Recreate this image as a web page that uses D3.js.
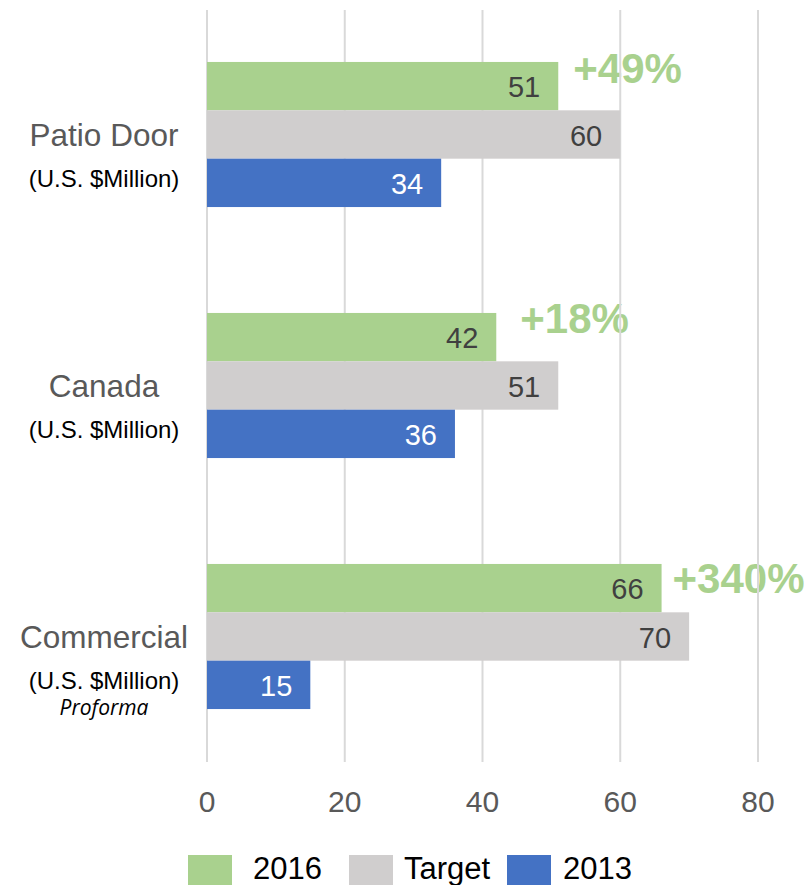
<!DOCTYPE html>
<html>
<head>
<meta charset="utf-8">
<script src="https://cdn.jsdelivr.net/npm/d3@7"></script>
<style>
  body { margin: 0; background: #fff; }
  text { font-family: "Liberation Sans", Arial, sans-serif; }
</style>
</head>
<body>
<svg id="chart" width="808" height="885"></svg>
<script>
// categories + series
var categories = ["Patio Door", "Canada", "Commercial"];
var subtitles = [["(U.S. $Million)"], ["(U.S. $Million)"], ["(U.S. $Million)", "Proforma"]];
var seriesNames = ["2016", "Target", "2013"];
var values2016 = [51, 42, 66];
var valuesTarget = [60, 51, 70];
var values2013 = [34, 36, 15];
var growthLabels = ["+49%", "+18%", "+340%"];
var xTicks = [0, 20, 40, 60, 80];

var colors = { "2016": "#a9d18e", "Target": "#d0cece", "2013": "#4472c4" };
var labelColors = { "2016": "#404040", "Target": "#404040", "2013": "#ffffff" };

// hand nudges for the growth text boxes (they were placed by hand in the source)
var growthNudge = [[15, 21], [24, 20], [11, 29]];

var svg = d3.select("#chart");

var x = d3.scaleLinear().domain([0, 80]).range([207, 758]);
var y = d3.scaleBand().domain(categories).range([9, 762])
    .paddingInner(0.422).paddingOuter(0.211);
var ySub = d3.scaleBand().domain(seriesNames).range([0, y.bandwidth()]);

var rows = categories.map(function (c, i) {
    return {
        cat: c,
        i: i,
        bars: [
            { s: "2016", v: values2016[i] },
            { s: "Target", v: valuesTarget[i] },
            { s: "2013", v: values2013[i] }
        ]
    };
});

// growth labels (under the gridlines, like the source)
svg.append("g").selectAll("text")
    .data(rows)
    .enter().append("text")
    .attr("x", function (d) { return x(values2016[d.i]) + growthNudge[d.i][0]; })
    .attr("y", function (d) { return y(d.cat) + growthNudge[d.i][1]; })
    .attr("fill", colors["2016"])
    .style("font-size", "42px")
    .style("font-weight", "bold")
    .text(function (d) { return growthLabels[d.i]; });

// gridlines
svg.append("g").selectAll("line")
    .data(xTicks)
    .enter().append("line")
    .attr("x1", function (d) { return x(d); })
    .attr("x2", function (d) { return x(d); })
    .attr("y1", 10)
    .attr("y2", 762)
    .style("stroke", "#d9d9d9")
    .style("stroke-width", 2);

// tick labels
svg.append("g").selectAll("text")
    .data(xTicks)
    .enter().append("text")
    .attr("x", function (d) { return x(d); })
    .attr("y", 812)
    .attr("text-anchor", "middle")
    .attr("fill", "#595959")
    .style("font-size", "30px")
    .text(function (d) { return d; });

// bars
var groups = svg.append("g").selectAll("g")
    .data(rows)
    .enter().append("g")
    .attr("transform", function (d) { return "translate(0," + y(d.cat) + ")"; });

groups.selectAll("rect")
    .data(function (d) { return d.bars; })
    .enter().append("rect")
    .attr("x", x(0))
    .attr("y", function (d) { return ySub(d.s); })
    .attr("width", function (d) { return x(d.v) - x(0); })
    .attr("height", ySub.bandwidth())
    .attr("fill", function (d) { return colors[d.s]; });

groups.selectAll("text.val")
    .data(function (d) { return d.bars; })
    .enter().append("text")
    .attr("class", "val")
    .attr("x", function (d) { return x(d.v) - 18; })
    .attr("y", function (d) { return ySub(d.s) + ySub.bandwidth() / 2; })
    .attr("dy", "0.38em")
    .attr("text-anchor", "end")
    .attr("fill", function (d) { return labelColors[d.s]; })
    .style("font-size", "29px")
    .text(function (d) { return d.v; });

// category labels on the left
var catG = svg.append("g").selectAll("g")
    .data(rows)
    .enter().append("g")
    .attr("transform", function (d) { return "translate(104," + (y(d.cat) + y.bandwidth() / 2) + ")"; });

catG.append("text")
    .attr("y", 11)
    .attr("text-anchor", "middle")
    .attr("fill", "#595959")
    .style("font-size", "31.5px")
    .text(function (d) { return d.cat; });

catG.append("text")
    .attr("y", 52)
    .attr("text-anchor", "middle")
    .attr("fill", "#000")
    .style("font-size", "24px")
    .text(function (d) { return subtitles[d.i][0]; });

catG.filter(function (d) { return subtitles[d.i].length > 1; })
    .append("text")
    .attr("y", 78)
    .attr("text-anchor", "middle")
    .attr("fill", "#000")
    .style("font-size", "21px")
    .style("font-style", "italic")
    .style("font-family", "'Open Sans', sans-serif")
    .text(function (d) { return subtitles[d.i][1]; });

// legend
var legendX = [188, 349, 507];
var legendTextX = [253, 404, 563];
var legend = svg.append("g").selectAll("g")
    .data(seriesNames)
    .enter().append("g");

legend.append("rect")
    .attr("x", function (d, i) { return legendX[i]; })
    .attr("y", 855)
    .attr("width", 44)
    .attr("height", 30)
    .attr("fill", function (d) { return colors[d]; });

legend.append("text")
    .attr("x", function (d, i) { return legendTextX[i]; })
    .attr("y", 879)
    .attr("fill", "#000")
    .style("font-size", "31px")
    .text(function (d) { return d; });
</script>
</body>
</html>
